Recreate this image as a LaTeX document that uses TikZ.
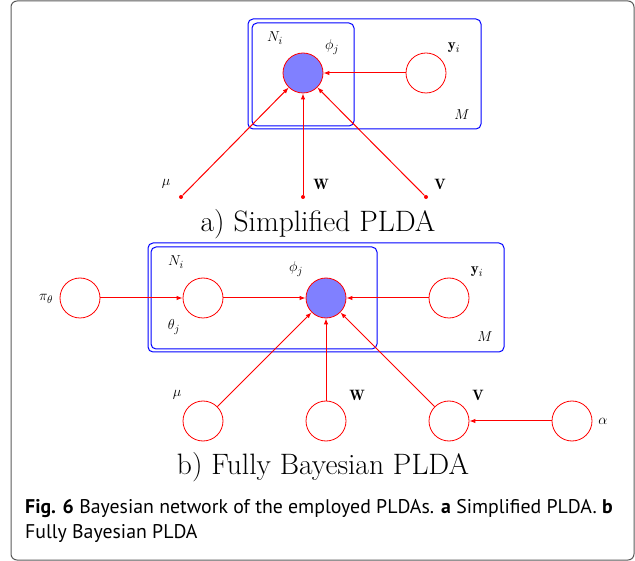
\documentclass[tikz,border=0pt]{standalone}
\usepackage{fontspec}
\newfontfamily\capfont{PT Sans}
\usetikzlibrary{arrows.meta}
\definecolor{frame}{RGB}{90,90,90}
\definecolor{nodefill}{RGB}{128,128,255}
\begin{document}
\begin{tikzpicture}[x=1pt,y=-1pt,
  var/.style={circle,draw=red,line width=0.8pt,minimum size=40pt,inner sep=0pt},
  obs/.style={var,fill=nodefill},
  dotnode/.style={circle,fill=red,minimum size=4pt,inner sep=0pt},
  plate/.style={draw=blue,line width=1pt,rounded corners=5pt},
  edge/.style={red,line width=1pt,-{Latex[length=6pt,width=4.5pt]}},
  lab/.style={inner sep=0pt,font=\fontsize{15}{18}\selectfont},
  captext/.style={inner sep=0pt,anchor=base,font=\fontsize{29.5}{34}\selectfont}]
\useasboundingbox (0,0) rectangle (635,561);
\draw[frame,line width=1pt,rounded corners=6pt] (11,1) rectangle (634,560);
% ---- (a)
\draw[plate] (248,19) rectangle (481,129);
\draw[plate] (252,23) rectangle (354,126);
\node[obs] (aphi) at (303,73) {};
\node[var] (ay) at (426,73) {};
\node[dotnode] (amu) at (181,197) {};
\node[dotnode] (aW) at (303,197) {};
\node[dotnode] (aV) at (426,197) {};
\node[lab] (aNl) at (275,38) {$N_i$};
\node[lab] (aphil) at (332,47) {$\phi_j$};
\node[lab] (ayl) at (454,48) {$\mathbf{y}_i$};
\node[lab] (aMl) at (462,115) {$M$};
\node[lab] (amul) at (166,184) {$\mu$};
\node[lab] (aWl) at (321,184) {$\mathbf{W}$};
\node[lab] (aVl) at (440,184) {$\mathbf{V}$};
\draw[edge] (ay) -- (aphi);
\draw[edge] (amu) -- (aphi);
\draw[edge] (aW) -- (aphi);
\draw[edge] (aV) -- (aphi);
\node[captext] (acap) at (318,232) {a) Simplified PLDA};
% ---- (b)
\draw[plate] (148,243) rectangle (504,352);
\draw[plate] (151,247) rectangle (377,349);
\node[var] (bpi) at (80,298) {};
\node[var] (btheta) at (203,298) {};
\node[obs] (bphi) at (326,298) {};
\node[var] (by) at (449,298) {};
\node[var] (bmu) at (203,421) {};
\node[var] (bW) at (326,421) {};
\node[var] (bV) at (449,421) {};
\node[var] (balpha) at (572,421) {};
\node[lab] (bpil) at (46,299) {$\pi_\theta$};
\node[lab] (bNl) at (176,262) {$N_i$};
\node[lab] (bthetal) at (174,327) {$\theta_j$};
\node[lab] (bphil) at (296,269) {$\phi_j$};
\node[lab] (byl) at (477,272) {$\mathbf{y}_i$};
\node[lab] (bMl) at (485,337) {$M$};
\node[lab] (bmul) at (177,395) {$\mu$};
\node[lab] (bWl) at (357,395) {$\mathbf{W}$};
\node[lab] (bVl) at (478,395) {$\mathbf{V}$};
\node[lab] (balphal) at (603,421) {$\alpha$};
\draw[edge] (bpi) -- (btheta);
\draw[edge] (btheta) -- (bphi);
\draw[edge] (by) -- (bphi);
\draw[edge] (bmu) -- (bphi);
\draw[edge] (bW) -- (bphi);
\draw[edge] (bV) -- (bphi);
\draw[edge] (balpha) -- (bV);
\node[captext] (bcap) at (323,475) {b) Fully Bayesian PLDA};
% ---- caption
\node[anchor=base west,inner sep=0pt,font=\capfont\fontsize{19.8}{25}\selectfont,align=left] (figcap) at (25,538)
  {\textbf{Fig. 6} Bayesian network of the employed PLDAs. \textbf{a} Simplified PLDA. \textbf{b}\\Fully Bayesian PLDA};
\end{tikzpicture}
\end{document}
